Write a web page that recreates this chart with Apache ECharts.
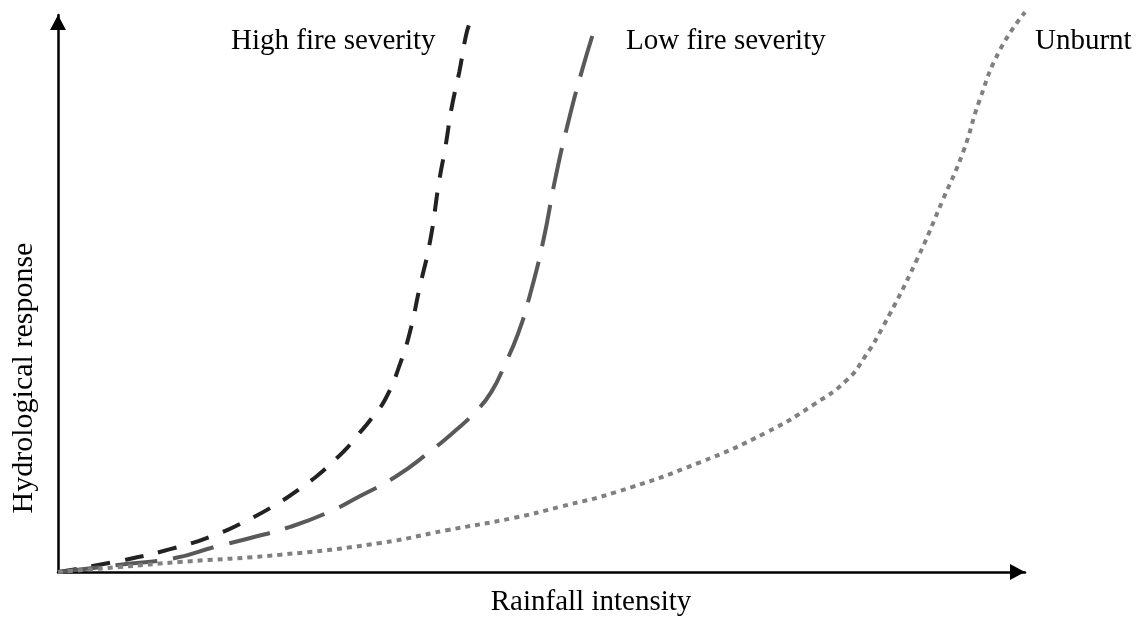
<!DOCTYPE html>
<html>
<head>
<meta charset="utf-8">
<script src="https://cdn.jsdelivr.net/npm/echarts@6/dist/echarts.min.js"></script>
<style>
html,body{margin:0;padding:0;background:#fff;}
#chart{width:1140px;height:633px;}
</style>
</head>
<body>
<div id="chart"></div>
<script>
// Conceptual curves: x = rainfall intensity (0-100), y = hydrological response (0-100)
const highSeverity = [
  [0,0],[6.4,2.0],[11.6,4.1],[16.0,6.5],[19.6,9.3],[23.0,12.6],[25.3,15.3],[26.9,17.4],
  [28.3,19.6],[29.9,22.3],[31.0,24.6],[32.3,27.3],[33.9,31.2],[35.4,37.5],[36.5,43.8],
  [37.3,50.3],[38.5,59.6],[39.4,70.0],[40.1,76.7],[40.7,83.3],[41.5,89.8],[42.2,96.4],[42.6,98.7]
];
const lowSeverity = [
  [0,0],[6.4,1.3],[12.1,2.5],[16.2,4.5],[19.9,6.1],[24.0,8.1],[27.8,10.6],[31.2,13.6],
  [34.9,17.1],[38.3,21.4],[41.1,25.4],[43.2,28.8],[44.8,32.3],[46.2,37.2],[47.6,42.9],
  [48.8,49.7],[50.2,59.6],[51.4,70.4],[52.7,80.3],[54.2,90.1],[55.7,98.7]
];
const unburnt = [
  [0,0],[6.4,0.9],[12.6,1.8],[23.0,3.1],[33.3,5.2],[40.2,7.5],[47.1,9.7],[51.9,11.7],
  [57.8,14.4],[66.4,19.7],[73.3,25.1],[78.1,30.0],[81.6,34.5],[83.5,38.8],[85.3,44.0],
  [88.8,56.0],[91.5,66.8],[93.6,75.4],[95.3,84.7],[97.4,93.7],[100,100.5]
];
const seriesNames = ['High fire severity', 'Low fire severity', 'Unburnt'];
const xTitle = 'Rainfall intensity';
const yTitle = 'Hydrological response';

const FONT = '"Liberation Serif", "Times New Roman", serif';
const chart = echarts.init(document.getElementById('chart'), null, {renderer: 'canvas'});

const axisLine = {
  show: true,
  symbol: ['none', 'triangle'],
  symbolSize: [16, 15],
  symbolOffset: [0, -7.5],
  lineStyle: {color: '#000', width: 2.5}
};

function lineSeries(name, data, color, dash) {
  return {
    name: name, type: 'line', data: data, smooth: 0.5, showSymbol: false,
    clip: false, animation: false,
    lineStyle: {color: color, width: 4, type: dash, cap: 'butt'}
  };
}

chart.setOption({
  backgroundColor: '#fff',
  animation: false,
  grid: {left: 58, right: 115, top: 15, bottom: 61},
  xAxis: {
    type: 'value', min: 0, max: 100,
    axisLine: axisLine, axisTick: {show: false}, axisLabel: {show: false}, splitLine: {show: false}
  },
  yAxis: {
    type: 'value', min: 0, max: 100,
    axisLine: axisLine, axisTick: {show: false}, axisLabel: {show: false}, splitLine: {show: false}
  },
  series: [
    lineSeries(seriesNames[0], highSeverity, '#222222', [19, 15]),
    lineSeries(seriesNames[1], lowSeverity, '#595959', [42, 16]),
    lineSeries(seriesNames[2], unburnt, '#808080', [5, 5])
  ],
  graphic: [
    {type: 'text', x: 231, y: 41, style: {text: seriesNames[0], font: '29px ' + FONT, fill: '#000', align: 'left', verticalAlign: 'middle'}},
    {type: 'text', x: 626, y: 41, style: {text: seriesNames[1], font: '29px ' + FONT, fill: '#000', align: 'left', verticalAlign: 'middle'}},
    {type: 'text', x: 1035, y: 41, style: {text: seriesNames[2], font: '29px ' + FONT, fill: '#000', align: 'left', verticalAlign: 'middle'}},
    {type: 'text', x: 591, y: 602, style: {text: xTitle, font: '29px ' + FONT, fill: '#000', align: 'center', verticalAlign: 'middle'}},
    {type: 'text', x: 24, y: 378, rotation: Math.PI / 2, style: {text: yTitle, font: '30px ' + FONT, fill: '#000', align: 'center', verticalAlign: 'middle'}}
  ]
});
</script>
</body>
</html>
